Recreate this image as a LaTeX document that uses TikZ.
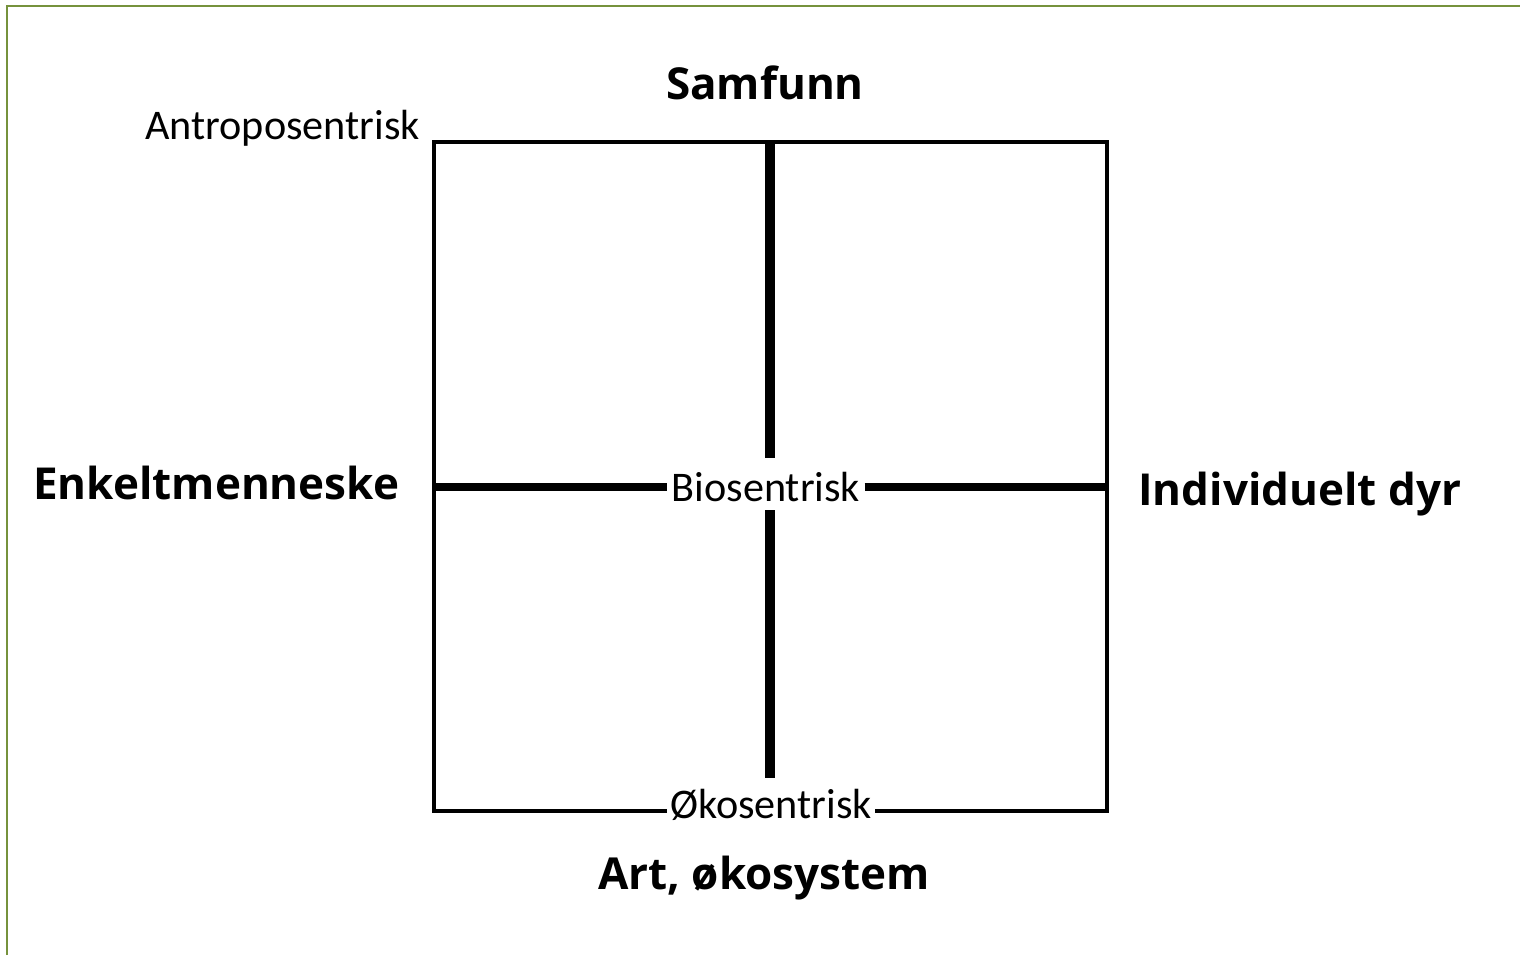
\documentclass[tikz,border=0pt]{standalone}
\usepackage{fontspec}
\setmainfont{Carlito}
\newfontfamily\boldlab{Open Sans}[UprightFont=* Bold]
\definecolor{frameg}{HTML}{76923C}
\begin{document}
\begin{tikzpicture}[x=0.025cm,y=-0.025cm,
  bigbold/.style={font=\boldlab\fontsize{31.3}{36}\selectfont, inner sep=0pt},
  smalllab/.style={font=\fontsize{30}{36}\selectfont, inner sep=0pt},
  boxline/.style={line width=2.9pt, line join=miter},
  hmid/.style={line width=5.7pt},
  vmid/.style={line width=7pt}]
\useasboundingbox (0,0) rectangle (1520,955);
% outer green frame (top and left)
\draw[frameg, line width=2pt] (7,955) -- (7,6) -- (1520,6);
% corner coordinates of the square
\coordinate (tl) at (434,142);
\coordinate (tr) at (1107,142);
\coordinate (bl) at (434,811);
\coordinate (br) at (1107,811);
\coordinate (tm) at (770,142);
\coordinate (bm) at (770,778);
\coordinate (lm) at (434,487);
\coordinate (rm) at (1107,487);
% labels on the lines
\node[smalllab, anchor=base, text height=1.075cm, text depth=0.225cm, inner xsep=3pt] (bio) at (766,501) {Biosentrisk};
\node[smalllab, anchor=base, inner xsep=2pt] (oko) at (771,818) {Økosentrisk};
% square with gap for Økosentrisk
\draw[boxline] (bl -| oko.west) -- (bl) -- (tl) -- (tr) -- (br) -- (br -| oko.east);
% middle cross
\draw[hmid] (lm) -- (lm -| bio.west);
\draw[hmid] (lm -| bio.east) -- (rm);
\draw[vmid] (tm) -- (tm |- bio.north);
\draw[vmid] (tm |- bio.south) -- (bm);
% outer labels
\node[bigbold, anchor=base] (samfunn) at (765,99) {Samfunn};
\node[bigbold, anchor=base west] (enkelt) at (33,499) {Enkeltmenneske};
\node[bigbold, anchor=base west] (indiv) at (1138,505) {Individuelt dyr};
\node[bigbold, anchor=base] (art) at (764,889) {Art, økosystem};
\node[smalllab, anchor=base west] (antro) at (145,139) {Antroposentrisk};
\end{tikzpicture}
\end{document}
